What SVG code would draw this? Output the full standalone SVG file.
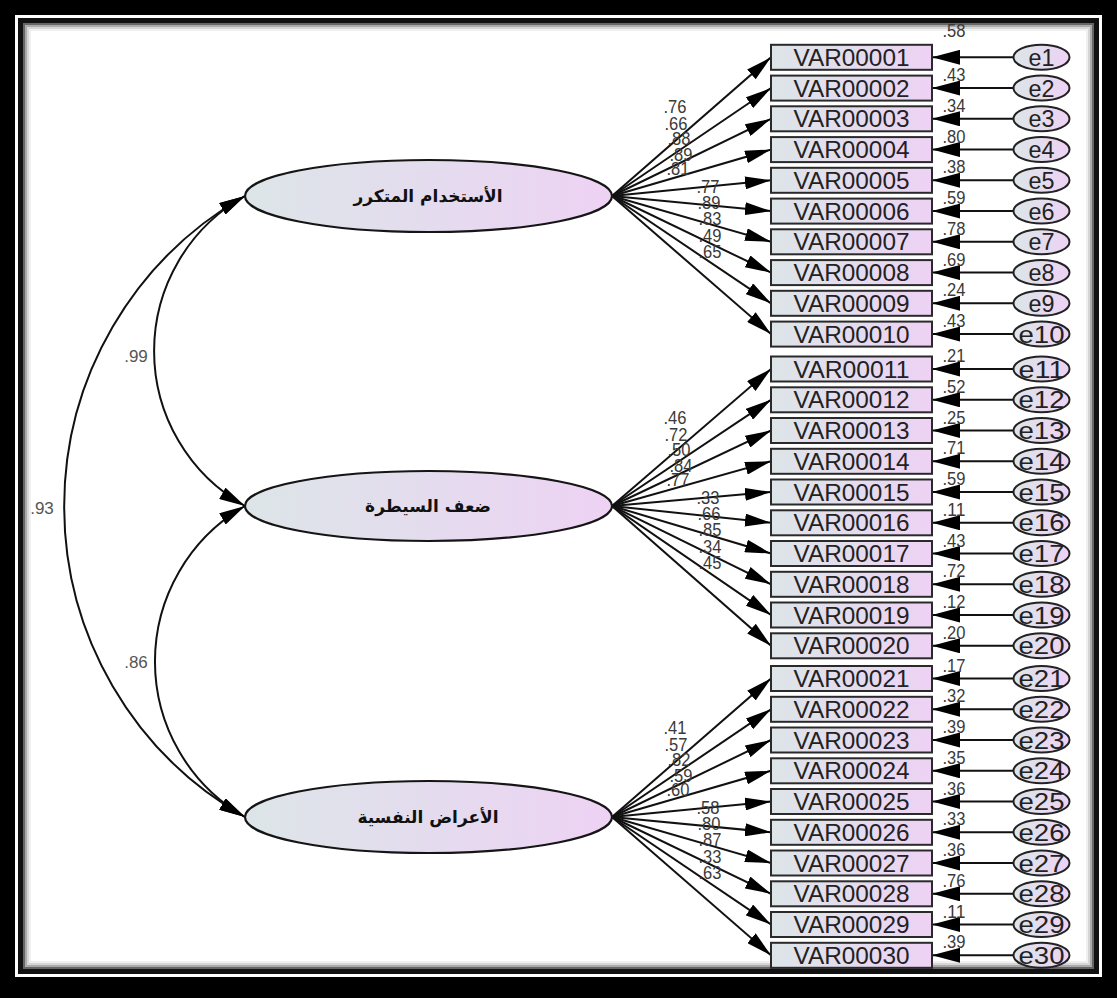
<svg xmlns="http://www.w3.org/2000/svg" width="1117" height="998" viewBox="0 0 1117 998">
<defs>
<linearGradient id="gb" x1="0" y1="0" x2="1" y2="0">
<stop offset="0" stop-color="#dde5e8"/>
<stop offset="0.5" stop-color="#e4dcee"/>
<stop offset="1" stop-color="#eed2f4"/>
</linearGradient>
<marker id="ah" viewBox="0 0 26 13" refX="26" refY="6.5" markerWidth="26" markerHeight="13" markerUnits="userSpaceOnUse" orient="auto-start-reverse">
<path d="M0,0 L26,6.5 L0,13 z" fill="#000"/>
</marker>
<marker id="ahe" viewBox="0 0 28 15" refX="28" refY="7.5" markerWidth="28" markerHeight="15" markerUnits="userSpaceOnUse" orient="auto">
<path d="M0,0 L28,7.5 L0,15 z" fill="#000"/>
</marker>
</defs>
<style>
.box{fill:url(#gb);stroke:#2a2a2a;stroke-width:2}
.lat{fill:url(#gb);stroke:#151515;stroke-width:2.2}
.err{fill:url(#gb);stroke:#222;stroke-width:2}
.vt{font-family:"Liberation Sans",Arial,sans-serif;font-size:24px;fill:#222;text-anchor:middle}
.et{font-family:"Liberation Sans",Arial,sans-serif;font-size:24px;fill:#222;text-anchor:middle}
.num{font-family:"Liberation Sans",Arial,sans-serif;font-size:18px;fill:#3a3a3a;text-anchor:middle}
.cov{font-family:"Liberation Sans",Arial,sans-serif;font-size:17px;fill:#555;text-anchor:middle}
.ar{font-family:"DejaVu Sans","Noto Sans",sans-serif;font-weight:bold;font-size:17px;fill:#111;text-anchor:middle}
.ln{stroke:#111;stroke-width:2;fill:none;marker-end:url(#ah)}
.eln{stroke:#111;stroke-width:2;fill:none;marker-end:url(#ahe)}
.arc{stroke:#111;stroke-width:2;fill:none;marker-start:url(#ah);marker-end:url(#ah)}
</style>
<g id="frame">
<rect x="0" y="0" width="1117" height="998" fill="#000"/>
<rect x="15" y="15" width="1087" height="962" fill="#fff"/>
<rect x="18" y="18" width="1081" height="956" fill="#111"/>
<rect x="23" y="23" width="1071" height="946" fill="#666"/>
<rect x="25" y="25" width="1067" height="942" fill="#aaa"/>
<rect x="27" y="27" width="1063" height="938" fill="#d6d6d6"/>
<rect x="29" y="29" width="1059" height="934" fill="#f0f0f0"/>
<rect x="31" y="31" width="1055" height="930" fill="#fff"/>
</g>
<g id="connectors">
<path class="arc" d="M245,196 A177.6,177.6 0 0 0 245,506"/>
<path class="arc" d="M245,506 A179.3,179.3 0 0 0 245,817"/>
<path class="arc" d="M245,196 A357,357 0 0 0 245,817"/>
<line class="ln" x1="612" y1="196" x2="771" y2="57.3"/>
<line class="ln" x1="612" y1="196" x2="771" y2="88.1"/>
<line class="ln" x1="612" y1="196" x2="771" y2="118.8"/>
<line class="ln" x1="612" y1="196" x2="771" y2="149.6"/>
<line class="ln" x1="612" y1="196" x2="771" y2="180.3"/>
<line class="ln" x1="612" y1="196" x2="771" y2="211.1"/>
<line class="ln" x1="612" y1="196" x2="771" y2="241.8"/>
<line class="ln" x1="612" y1="196" x2="771" y2="272.6"/>
<line class="ln" x1="612" y1="196" x2="771" y2="303.3"/>
<line class="ln" x1="612" y1="196" x2="771" y2="334.1"/>
<line class="ln" x1="612" y1="506" x2="771" y2="369"/>
<line class="ln" x1="612" y1="506" x2="771" y2="399.8"/>
<line class="ln" x1="612" y1="506" x2="771" y2="430.5"/>
<line class="ln" x1="612" y1="506" x2="771" y2="461.3"/>
<line class="ln" x1="612" y1="506" x2="771" y2="492"/>
<line class="ln" x1="612" y1="506" x2="771" y2="522.8"/>
<line class="ln" x1="612" y1="506" x2="771" y2="553.5"/>
<line class="ln" x1="612" y1="506" x2="771" y2="584.3"/>
<line class="ln" x1="612" y1="506" x2="771" y2="615"/>
<line class="ln" x1="612" y1="506" x2="771" y2="645.8"/>
<line class="ln" x1="612" y1="817" x2="771" y2="678.5"/>
<line class="ln" x1="612" y1="817" x2="771" y2="709.3"/>
<line class="ln" x1="612" y1="817" x2="771" y2="740"/>
<line class="ln" x1="612" y1="817" x2="771" y2="770.8"/>
<line class="ln" x1="612" y1="817" x2="771" y2="801.5"/>
<line class="ln" x1="612" y1="817" x2="771" y2="832.3"/>
<line class="ln" x1="612" y1="817" x2="771" y2="863"/>
<line class="ln" x1="612" y1="817" x2="771" y2="893.8"/>
<line class="ln" x1="612" y1="817" x2="771" y2="924.5"/>
<line class="ln" x1="612" y1="817" x2="771" y2="955.3"/>
<line class="eln" x1="1013" y1="57.3" x2="932" y2="57.3"/>
<line class="eln" x1="1013" y1="88.1" x2="932" y2="88.1"/>
<line class="eln" x1="1013" y1="118.8" x2="932" y2="118.8"/>
<line class="eln" x1="1013" y1="149.6" x2="932" y2="149.6"/>
<line class="eln" x1="1013" y1="180.3" x2="932" y2="180.3"/>
<line class="eln" x1="1013" y1="211.1" x2="932" y2="211.1"/>
<line class="eln" x1="1013" y1="241.8" x2="932" y2="241.8"/>
<line class="eln" x1="1013" y1="272.6" x2="932" y2="272.6"/>
<line class="eln" x1="1013" y1="303.3" x2="932" y2="303.3"/>
<line class="eln" x1="1013" y1="334.1" x2="932" y2="334.1"/>
<line class="eln" x1="1013" y1="369" x2="932" y2="369"/>
<line class="eln" x1="1013" y1="399.8" x2="932" y2="399.8"/>
<line class="eln" x1="1013" y1="430.5" x2="932" y2="430.5"/>
<line class="eln" x1="1013" y1="461.3" x2="932" y2="461.3"/>
<line class="eln" x1="1013" y1="492" x2="932" y2="492"/>
<line class="eln" x1="1013" y1="522.8" x2="932" y2="522.8"/>
<line class="eln" x1="1013" y1="553.5" x2="932" y2="553.5"/>
<line class="eln" x1="1013" y1="584.3" x2="932" y2="584.3"/>
<line class="eln" x1="1013" y1="615" x2="932" y2="615"/>
<line class="eln" x1="1013" y1="645.8" x2="932" y2="645.8"/>
<line class="eln" x1="1013" y1="678.5" x2="932" y2="678.5"/>
<line class="eln" x1="1013" y1="709.3" x2="932" y2="709.3"/>
<line class="eln" x1="1013" y1="740" x2="932" y2="740"/>
<line class="eln" x1="1013" y1="770.8" x2="932" y2="770.8"/>
<line class="eln" x1="1013" y1="801.5" x2="932" y2="801.5"/>
<line class="eln" x1="1013" y1="832.3" x2="932" y2="832.3"/>
<line class="eln" x1="1013" y1="863" x2="932" y2="863"/>
<line class="eln" x1="1013" y1="893.8" x2="932" y2="893.8"/>
<line class="eln" x1="1013" y1="924.5" x2="932" y2="924.5"/>
<line class="eln" x1="1013" y1="955.3" x2="932" y2="955.3"/>
</g>
<g id="F1"><ellipse class="lat" cx="428.5" cy="196" rx="183.5" ry="36"/><text class="ar" x="428" y="202">الأستخدام المتكرر</text></g>
<g id="F2"><ellipse class="lat" cx="428.5" cy="506" rx="183.5" ry="35"/><text class="ar" x="428" y="512">ضعف السيطرة</text></g>
<g id="F3"><ellipse class="lat" cx="428.5" cy="817" rx="183.5" ry="36"/><text class="ar" x="428" y="823">الأعراض النفسية</text></g>
<g id="VAR00001"><rect class="box" x="771" y="44.8" width="161" height="25"/><text class="vt" x="851.5" y="65.8" textLength="116" lengthAdjust="spacingAndGlyphs">VAR00001</text></g>
<g id="VAR00002"><rect class="box" x="771" y="75.6" width="161" height="25"/><text class="vt" x="851.5" y="96.6" textLength="116" lengthAdjust="spacingAndGlyphs">VAR00002</text></g>
<g id="VAR00003"><rect class="box" x="771" y="106.3" width="161" height="25"/><text class="vt" x="851.5" y="127.3" textLength="116" lengthAdjust="spacingAndGlyphs">VAR00003</text></g>
<g id="VAR00004"><rect class="box" x="771" y="137.1" width="161" height="25"/><text class="vt" x="851.5" y="158.1" textLength="116" lengthAdjust="spacingAndGlyphs">VAR00004</text></g>
<g id="VAR00005"><rect class="box" x="771" y="167.8" width="161" height="25"/><text class="vt" x="851.5" y="188.8" textLength="116" lengthAdjust="spacingAndGlyphs">VAR00005</text></g>
<g id="VAR00006"><rect class="box" x="771" y="198.6" width="161" height="25"/><text class="vt" x="851.5" y="219.6" textLength="116" lengthAdjust="spacingAndGlyphs">VAR00006</text></g>
<g id="VAR00007"><rect class="box" x="771" y="229.3" width="161" height="25"/><text class="vt" x="851.5" y="250.3" textLength="116" lengthAdjust="spacingAndGlyphs">VAR00007</text></g>
<g id="VAR00008"><rect class="box" x="771" y="260.1" width="161" height="25"/><text class="vt" x="851.5" y="281.1" textLength="116" lengthAdjust="spacingAndGlyphs">VAR00008</text></g>
<g id="VAR00009"><rect class="box" x="771" y="290.8" width="161" height="25"/><text class="vt" x="851.5" y="311.8" textLength="116" lengthAdjust="spacingAndGlyphs">VAR00009</text></g>
<g id="VAR00010"><rect class="box" x="771" y="321.6" width="161" height="25"/><text class="vt" x="851.5" y="342.6" textLength="116" lengthAdjust="spacingAndGlyphs">VAR00010</text></g>
<g id="VAR00011"><rect class="box" x="771" y="356.5" width="161" height="25"/><text class="vt" x="851.5" y="377.5" textLength="116" lengthAdjust="spacingAndGlyphs">VAR00011</text></g>
<g id="VAR00012"><rect class="box" x="771" y="387.3" width="161" height="25"/><text class="vt" x="851.5" y="408.3" textLength="116" lengthAdjust="spacingAndGlyphs">VAR00012</text></g>
<g id="VAR00013"><rect class="box" x="771" y="418" width="161" height="25"/><text class="vt" x="851.5" y="439" textLength="116" lengthAdjust="spacingAndGlyphs">VAR00013</text></g>
<g id="VAR00014"><rect class="box" x="771" y="448.8" width="161" height="25"/><text class="vt" x="851.5" y="469.8" textLength="116" lengthAdjust="spacingAndGlyphs">VAR00014</text></g>
<g id="VAR00015"><rect class="box" x="771" y="479.5" width="161" height="25"/><text class="vt" x="851.5" y="500.5" textLength="116" lengthAdjust="spacingAndGlyphs">VAR00015</text></g>
<g id="VAR00016"><rect class="box" x="771" y="510.3" width="161" height="25"/><text class="vt" x="851.5" y="531.3" textLength="116" lengthAdjust="spacingAndGlyphs">VAR00016</text></g>
<g id="VAR00017"><rect class="box" x="771" y="541" width="161" height="25"/><text class="vt" x="851.5" y="562" textLength="116" lengthAdjust="spacingAndGlyphs">VAR00017</text></g>
<g id="VAR00018"><rect class="box" x="771" y="571.8" width="161" height="25"/><text class="vt" x="851.5" y="592.8" textLength="116" lengthAdjust="spacingAndGlyphs">VAR00018</text></g>
<g id="VAR00019"><rect class="box" x="771" y="602.5" width="161" height="25"/><text class="vt" x="851.5" y="623.5" textLength="116" lengthAdjust="spacingAndGlyphs">VAR00019</text></g>
<g id="VAR00020"><rect class="box" x="771" y="633.3" width="161" height="25"/><text class="vt" x="851.5" y="654.3" textLength="116" lengthAdjust="spacingAndGlyphs">VAR00020</text></g>
<g id="VAR00021"><rect class="box" x="771" y="666" width="161" height="25"/><text class="vt" x="851.5" y="687" textLength="116" lengthAdjust="spacingAndGlyphs">VAR00021</text></g>
<g id="VAR00022"><rect class="box" x="771" y="696.8" width="161" height="25"/><text class="vt" x="851.5" y="717.8" textLength="116" lengthAdjust="spacingAndGlyphs">VAR00022</text></g>
<g id="VAR00023"><rect class="box" x="771" y="727.5" width="161" height="25"/><text class="vt" x="851.5" y="748.5" textLength="116" lengthAdjust="spacingAndGlyphs">VAR00023</text></g>
<g id="VAR00024"><rect class="box" x="771" y="758.3" width="161" height="25"/><text class="vt" x="851.5" y="779.3" textLength="116" lengthAdjust="spacingAndGlyphs">VAR00024</text></g>
<g id="VAR00025"><rect class="box" x="771" y="789" width="161" height="25"/><text class="vt" x="851.5" y="810" textLength="116" lengthAdjust="spacingAndGlyphs">VAR00025</text></g>
<g id="VAR00026"><rect class="box" x="771" y="819.8" width="161" height="25"/><text class="vt" x="851.5" y="840.8" textLength="116" lengthAdjust="spacingAndGlyphs">VAR00026</text></g>
<g id="VAR00027"><rect class="box" x="771" y="850.5" width="161" height="25"/><text class="vt" x="851.5" y="871.5" textLength="116" lengthAdjust="spacingAndGlyphs">VAR00027</text></g>
<g id="VAR00028"><rect class="box" x="771" y="881.3" width="161" height="25"/><text class="vt" x="851.5" y="902.3" textLength="116" lengthAdjust="spacingAndGlyphs">VAR00028</text></g>
<g id="VAR00029"><rect class="box" x="771" y="912" width="161" height="25"/><text class="vt" x="851.5" y="933" textLength="116" lengthAdjust="spacingAndGlyphs">VAR00029</text></g>
<g id="VAR00030"><rect class="box" x="771" y="942.8" width="161" height="25"/><text class="vt" x="851.5" y="963.8" textLength="116" lengthAdjust="spacingAndGlyphs">VAR00030</text></g>
<g id="e1"><ellipse class="err" cx="1041.5" cy="57.3" rx="28" ry="12.5"/><text class="et" x="1041.5" y="65.8" textLength="26" lengthAdjust="spacingAndGlyphs">e1</text></g>
<g id="e2"><ellipse class="err" cx="1041.5" cy="88.1" rx="28" ry="12.5"/><text class="et" x="1041.5" y="96.6" textLength="26" lengthAdjust="spacingAndGlyphs">e2</text></g>
<g id="e3"><ellipse class="err" cx="1041.5" cy="118.8" rx="28" ry="12.5"/><text class="et" x="1041.5" y="127.3" textLength="26" lengthAdjust="spacingAndGlyphs">e3</text></g>
<g id="e4"><ellipse class="err" cx="1041.5" cy="149.6" rx="28" ry="12.5"/><text class="et" x="1041.5" y="158.1" textLength="26" lengthAdjust="spacingAndGlyphs">e4</text></g>
<g id="e5"><ellipse class="err" cx="1041.5" cy="180.3" rx="28" ry="12.5"/><text class="et" x="1041.5" y="188.8" textLength="26" lengthAdjust="spacingAndGlyphs">e5</text></g>
<g id="e6"><ellipse class="err" cx="1041.5" cy="211.1" rx="28" ry="12.5"/><text class="et" x="1041.5" y="219.6" textLength="26" lengthAdjust="spacingAndGlyphs">e6</text></g>
<g id="e7"><ellipse class="err" cx="1041.5" cy="241.8" rx="28" ry="12.5"/><text class="et" x="1041.5" y="250.3" textLength="26" lengthAdjust="spacingAndGlyphs">e7</text></g>
<g id="e8"><ellipse class="err" cx="1041.5" cy="272.6" rx="28" ry="12.5"/><text class="et" x="1041.5" y="281.1" textLength="26" lengthAdjust="spacingAndGlyphs">e8</text></g>
<g id="e9"><ellipse class="err" cx="1041.5" cy="303.3" rx="28" ry="12.5"/><text class="et" x="1041.5" y="311.8" textLength="26" lengthAdjust="spacingAndGlyphs">e9</text></g>
<g id="e10"><ellipse class="err" cx="1041.5" cy="334.1" rx="28" ry="12.5"/><text class="et" x="1041.5" y="342.6" textLength="46" lengthAdjust="spacingAndGlyphs">e10</text></g>
<g id="e11"><ellipse class="err" cx="1041.5" cy="369" rx="28" ry="12.5"/><text class="et" x="1041.5" y="377.5" textLength="46" lengthAdjust="spacingAndGlyphs">e11</text></g>
<g id="e12"><ellipse class="err" cx="1041.5" cy="399.8" rx="28" ry="12.5"/><text class="et" x="1041.5" y="408.3" textLength="46" lengthAdjust="spacingAndGlyphs">e12</text></g>
<g id="e13"><ellipse class="err" cx="1041.5" cy="430.5" rx="28" ry="12.5"/><text class="et" x="1041.5" y="439" textLength="46" lengthAdjust="spacingAndGlyphs">e13</text></g>
<g id="e14"><ellipse class="err" cx="1041.5" cy="461.3" rx="28" ry="12.5"/><text class="et" x="1041.5" y="469.8" textLength="46" lengthAdjust="spacingAndGlyphs">e14</text></g>
<g id="e15"><ellipse class="err" cx="1041.5" cy="492" rx="28" ry="12.5"/><text class="et" x="1041.5" y="500.5" textLength="46" lengthAdjust="spacingAndGlyphs">e15</text></g>
<g id="e16"><ellipse class="err" cx="1041.5" cy="522.8" rx="28" ry="12.5"/><text class="et" x="1041.5" y="531.3" textLength="46" lengthAdjust="spacingAndGlyphs">e16</text></g>
<g id="e17"><ellipse class="err" cx="1041.5" cy="553.5" rx="28" ry="12.5"/><text class="et" x="1041.5" y="562" textLength="46" lengthAdjust="spacingAndGlyphs">e17</text></g>
<g id="e18"><ellipse class="err" cx="1041.5" cy="584.3" rx="28" ry="12.5"/><text class="et" x="1041.5" y="592.8" textLength="46" lengthAdjust="spacingAndGlyphs">e18</text></g>
<g id="e19"><ellipse class="err" cx="1041.5" cy="615" rx="28" ry="12.5"/><text class="et" x="1041.5" y="623.5" textLength="46" lengthAdjust="spacingAndGlyphs">e19</text></g>
<g id="e20"><ellipse class="err" cx="1041.5" cy="645.8" rx="28" ry="12.5"/><text class="et" x="1041.5" y="654.3" textLength="46" lengthAdjust="spacingAndGlyphs">e20</text></g>
<g id="e21"><ellipse class="err" cx="1041.5" cy="678.5" rx="28" ry="12.5"/><text class="et" x="1041.5" y="687" textLength="46" lengthAdjust="spacingAndGlyphs">e21</text></g>
<g id="e22"><ellipse class="err" cx="1041.5" cy="709.3" rx="28" ry="12.5"/><text class="et" x="1041.5" y="717.8" textLength="46" lengthAdjust="spacingAndGlyphs">e22</text></g>
<g id="e23"><ellipse class="err" cx="1041.5" cy="740" rx="28" ry="12.5"/><text class="et" x="1041.5" y="748.5" textLength="46" lengthAdjust="spacingAndGlyphs">e23</text></g>
<g id="e24"><ellipse class="err" cx="1041.5" cy="770.8" rx="28" ry="12.5"/><text class="et" x="1041.5" y="779.3" textLength="46" lengthAdjust="spacingAndGlyphs">e24</text></g>
<g id="e25"><ellipse class="err" cx="1041.5" cy="801.5" rx="28" ry="12.5"/><text class="et" x="1041.5" y="810" textLength="46" lengthAdjust="spacingAndGlyphs">e25</text></g>
<g id="e26"><ellipse class="err" cx="1041.5" cy="832.3" rx="28" ry="12.5"/><text class="et" x="1041.5" y="840.8" textLength="46" lengthAdjust="spacingAndGlyphs">e26</text></g>
<g id="e27"><ellipse class="err" cx="1041.5" cy="863" rx="28" ry="12.5"/><text class="et" x="1041.5" y="871.5" textLength="46" lengthAdjust="spacingAndGlyphs">e27</text></g>
<g id="e28"><ellipse class="err" cx="1041.5" cy="893.8" rx="28" ry="12.5"/><text class="et" x="1041.5" y="902.3" textLength="46" lengthAdjust="spacingAndGlyphs">e28</text></g>
<g id="e29"><ellipse class="err" cx="1041.5" cy="924.5" rx="28" ry="12.5"/><text class="et" x="1041.5" y="933" textLength="46" lengthAdjust="spacingAndGlyphs">e29</text></g>
<g id="e30"><ellipse class="err" cx="1041.5" cy="955.3" rx="28" ry="12.5"/><text class="et" x="1041.5" y="963.8" textLength="46" lengthAdjust="spacingAndGlyphs">e30</text></g>
<g id="labels">
<text class="cov" x="136" y="362">.99</text>
<text class="cov" x="42" y="514">.93</text>
<text class="cov" x="136" y="668">.86</text>
<text class="num" x="675" y="113" textLength="23" lengthAdjust="spacingAndGlyphs">.76</text>
<text class="num" x="676" y="130" textLength="23" lengthAdjust="spacingAndGlyphs">.66</text>
<text class="num" x="679" y="145" textLength="23" lengthAdjust="spacingAndGlyphs">.88</text>
<text class="num" x="681" y="161" textLength="23" lengthAdjust="spacingAndGlyphs">.89</text>
<text class="num" x="678" y="175" textLength="23" lengthAdjust="spacingAndGlyphs">.81</text>
<text class="num" x="708" y="193" textLength="23" lengthAdjust="spacingAndGlyphs">.77</text>
<text class="num" x="709" y="209" textLength="23" lengthAdjust="spacingAndGlyphs">.89</text>
<text class="num" x="710" y="225" textLength="23" lengthAdjust="spacingAndGlyphs">.83</text>
<text class="num" x="710" y="242" textLength="23" lengthAdjust="spacingAndGlyphs">.49</text>
<text class="num" x="710" y="258" textLength="23" lengthAdjust="spacingAndGlyphs">.65</text>
<text class="num" x="675" y="424" textLength="23" lengthAdjust="spacingAndGlyphs">.46</text>
<text class="num" x="676" y="441" textLength="23" lengthAdjust="spacingAndGlyphs">.72</text>
<text class="num" x="679" y="456" textLength="23" lengthAdjust="spacingAndGlyphs">.50</text>
<text class="num" x="681" y="472" textLength="23" lengthAdjust="spacingAndGlyphs">.84</text>
<text class="num" x="678" y="486" textLength="23" lengthAdjust="spacingAndGlyphs">.77</text>
<text class="num" x="708" y="504" textLength="23" lengthAdjust="spacingAndGlyphs">.33</text>
<text class="num" x="709" y="520" textLength="23" lengthAdjust="spacingAndGlyphs">.66</text>
<text class="num" x="710" y="536" textLength="23" lengthAdjust="spacingAndGlyphs">.85</text>
<text class="num" x="710" y="553" textLength="23" lengthAdjust="spacingAndGlyphs">.34</text>
<text class="num" x="710" y="569" textLength="23" lengthAdjust="spacingAndGlyphs">.45</text>
<text class="num" x="675" y="734" textLength="23" lengthAdjust="spacingAndGlyphs">.41</text>
<text class="num" x="676" y="751" textLength="23" lengthAdjust="spacingAndGlyphs">.57</text>
<text class="num" x="679" y="766" textLength="23" lengthAdjust="spacingAndGlyphs">.82</text>
<text class="num" x="681" y="782" textLength="23" lengthAdjust="spacingAndGlyphs">.59</text>
<text class="num" x="678" y="796" textLength="23" lengthAdjust="spacingAndGlyphs">.60</text>
<text class="num" x="708" y="814" textLength="23" lengthAdjust="spacingAndGlyphs">.58</text>
<text class="num" x="709" y="830" textLength="23" lengthAdjust="spacingAndGlyphs">.80</text>
<text class="num" x="710" y="846" textLength="23" lengthAdjust="spacingAndGlyphs">.87</text>
<text class="num" x="710" y="863" textLength="23" lengthAdjust="spacingAndGlyphs">.33</text>
<text class="num" x="710" y="879" textLength="23" lengthAdjust="spacingAndGlyphs">.63</text>
<text class="num" x="954" y="37" textLength="23" lengthAdjust="spacingAndGlyphs">.58</text>
<text class="num" x="954" y="81.1" textLength="23" lengthAdjust="spacingAndGlyphs">.43</text>
<text class="num" x="954" y="111.8" textLength="23" lengthAdjust="spacingAndGlyphs">.34</text>
<text class="num" x="954" y="142.6" textLength="23" lengthAdjust="spacingAndGlyphs">.80</text>
<text class="num" x="954" y="173.3" textLength="23" lengthAdjust="spacingAndGlyphs">.38</text>
<text class="num" x="954" y="204.1" textLength="23" lengthAdjust="spacingAndGlyphs">.59</text>
<text class="num" x="954" y="234.8" textLength="23" lengthAdjust="spacingAndGlyphs">.78</text>
<text class="num" x="954" y="265.6" textLength="23" lengthAdjust="spacingAndGlyphs">.69</text>
<text class="num" x="954" y="296.3" textLength="23" lengthAdjust="spacingAndGlyphs">.24</text>
<text class="num" x="954" y="327.1" textLength="23" lengthAdjust="spacingAndGlyphs">.43</text>
<text class="num" x="954" y="362" textLength="23" lengthAdjust="spacingAndGlyphs">.21</text>
<text class="num" x="954" y="392.8" textLength="23" lengthAdjust="spacingAndGlyphs">.52</text>
<text class="num" x="954" y="423.5" textLength="23" lengthAdjust="spacingAndGlyphs">.25</text>
<text class="num" x="954" y="454.3" textLength="23" lengthAdjust="spacingAndGlyphs">.71</text>
<text class="num" x="954" y="485" textLength="23" lengthAdjust="spacingAndGlyphs">.59</text>
<text class="num" x="954" y="515.8" textLength="23" lengthAdjust="spacingAndGlyphs">.11</text>
<text class="num" x="954" y="546.5" textLength="23" lengthAdjust="spacingAndGlyphs">.43</text>
<text class="num" x="954" y="577.3" textLength="23" lengthAdjust="spacingAndGlyphs">.72</text>
<text class="num" x="954" y="608" textLength="23" lengthAdjust="spacingAndGlyphs">.12</text>
<text class="num" x="954" y="638.8" textLength="23" lengthAdjust="spacingAndGlyphs">.20</text>
<text class="num" x="954" y="671.5" textLength="23" lengthAdjust="spacingAndGlyphs">.17</text>
<text class="num" x="954" y="702.3" textLength="23" lengthAdjust="spacingAndGlyphs">.32</text>
<text class="num" x="954" y="733" textLength="23" lengthAdjust="spacingAndGlyphs">.39</text>
<text class="num" x="954" y="763.8" textLength="23" lengthAdjust="spacingAndGlyphs">.35</text>
<text class="num" x="954" y="794.5" textLength="23" lengthAdjust="spacingAndGlyphs">.36</text>
<text class="num" x="954" y="825.3" textLength="23" lengthAdjust="spacingAndGlyphs">.33</text>
<text class="num" x="954" y="856" textLength="23" lengthAdjust="spacingAndGlyphs">.36</text>
<text class="num" x="954" y="886.8" textLength="23" lengthAdjust="spacingAndGlyphs">.76</text>
<text class="num" x="954" y="917.5" textLength="23" lengthAdjust="spacingAndGlyphs">.11</text>
<text class="num" x="954" y="948.3" textLength="23" lengthAdjust="spacingAndGlyphs">.39</text>
</g>
</svg>
